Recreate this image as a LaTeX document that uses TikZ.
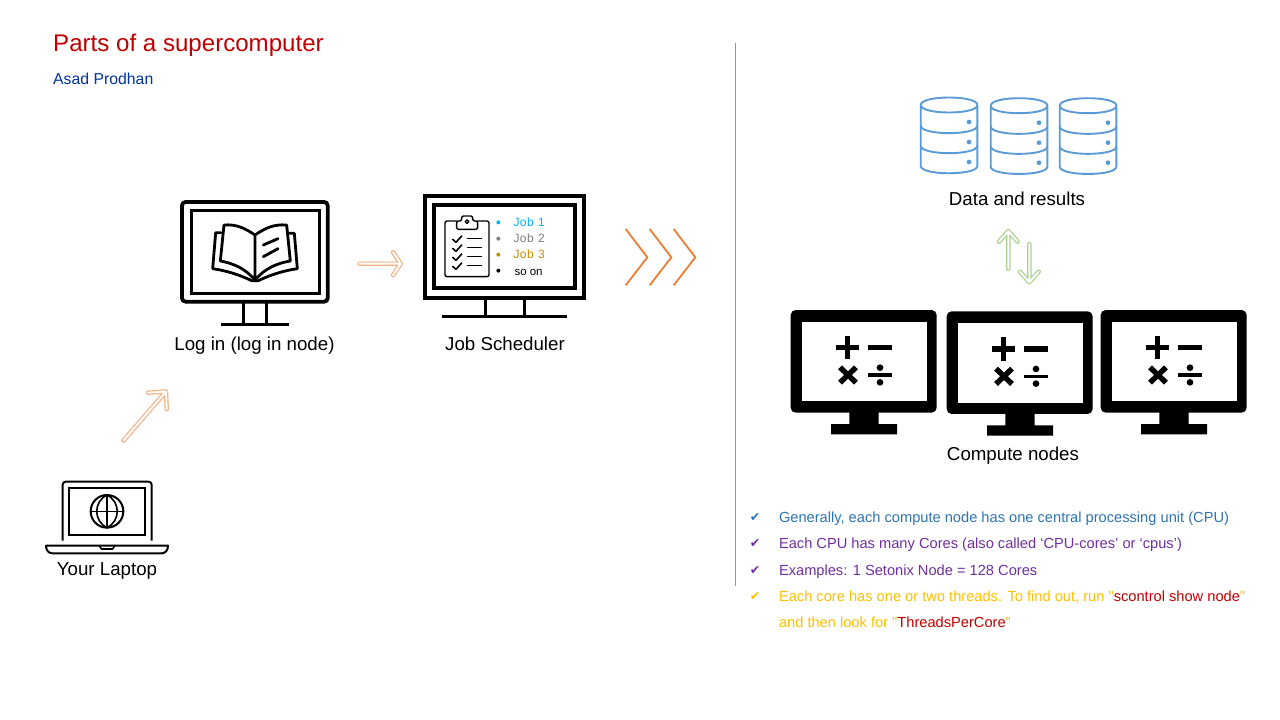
\documentclass[tikz,border=0pt]{standalone}
\usepackage{fontspec}
\setmainfont{Liberation Sans}
\newfontfamily\plainsans{Liberation Sans}
\newfontfamily\symfont{DejaVu Sans}
\definecolor{titlered}{HTML}{C00000}
\definecolor{authorblue}{HTML}{0033A0}
\definecolor{softorange}{HTML}{F4B183}
\definecolor{strongorange}{HTML}{ED7D31}
\definecolor{softgreen}{HTML}{A9D18E}
\definecolor{dbblue}{HTML}{5B9BD5}
\definecolor{listblue}{HTML}{2E75B6}
\definecolor{listpurple}{HTML}{7030A0}
\definecolor{listyellow}{HTML}{FFC000}
\definecolor{jobcyan}{HTML}{00B0F0}
\definecolor{jobgray}{HTML}{808080}
\definecolor{jobgold}{HTML}{BF9000}
\tikzset{
  lbl/.style={inner sep=0pt,outer sep=0pt,anchor=base,font=\fontsize{18.7}{22}\selectfont},
  listitem/.style={inner sep=0pt,outer sep=0pt,anchor=base west,font=\plainsans\fontsize{14.65}{17}\selectfont},
  chk/.style={inner sep=0pt,outer sep=0pt,anchor=base,font=\symfont\fontsize{12.5}{15}\selectfont},
  jobtxt/.style={inner sep=0pt,outer sep=0pt,anchor=base west,font=\fontsize{12}{14}\selectfont},
  hollow/.style={draw=#1,line width=1.2pt,double=white,double distance=2pt,line cap=round,line join=round},
  chevron/.style={draw=strongorange,line width=1.8pt},
  blk/.style={draw=black,line cap=round,line join=round},
  db/.style={draw=dbblue,line width=1.9pt,line join=round},
  zoomframe/.style={x=0.33333pt,y=-0.33333pt}
}
\newcommand{\dbicon}[2]{%
 \begin{scope}[shift={(#1,#2)},zoomframe]
  \draw[db] (0,60) .. controls (0,30) and (170,30) .. (170,60) .. controls (170,90) and (0,90) .. (0,60)
    -- (0,243) .. controls (0,272) and (170,272) .. (170,243) -- (170,60);
  \draw[db] (0,122) .. controls (0,152) and (170,152) .. (170,122);
  \draw[db] (0,182) .. controls (0,212) and (170,212) .. (170,182);
  \fill[dbblue] (145,111) circle (7) (145,171) circle (7) (145,231) circle (7);
 \end{scope}}
\newcommand{\computeicon}[2]{%
 \begin{scope}[shift={(#1,#2)},zoomframe]
  \fill[black,rounded corners=5pt] (32,30) rectangle (470,338);
  \fill[white] (65,65) rectangle (440,304);
  \fill[black] (208,330) rectangle (296,372) (153,372) rectangle (351,403);
  \draw[black,line width=5.3pt] (168,143) -- (238,143) (203,108) -- (203,178) (265,143) -- (335,143);
  \draw[black,line width=3.6pt] (265,225) -- (335,225);
  \draw[black,line width=5.4pt] (180,202) -- (228,248) (228,202) -- (180,248);
  \fill[black] (300,203) circle (10) (300,247) circle (10);
 \end{scope}}
\begin{document}
\begin{tikzpicture}[x=1pt,y=-1pt]
\useasboundingbox (0,0) rectangle (1280,720);
\fill[white] (0,0) rectangle (1280,720);

% heading
\node[inner sep=0pt,anchor=base west,text=titlered,font=\fontsize{24.1}{28}\selectfont] (title) at (53,51) {Parts of a supercomputer};
\node[inner sep=0pt,anchor=base west,text=authorblue,font=\fontsize{15.8}{19}\selectfont] (author) at (53,84) {Asad Prodhan};

% divider
\coordinate (divtop) at (735.5,43);
\coordinate (divbot) at (735.5,586);
\draw[draw=strongorange,line width=0.9pt] (divtop) -- (divbot);

% login monitor
\begin{scope}[shift={(160,180)},zoomframe]
  \draw[blk,line width=3.8pt,rounded corners=3.5pt] (66,66) rectangle (503,365);
  \draw[blk,line width=3pt,line cap=butt,line join=miter] (93,90) rectangle (477,339);
  \draw[blk,line width=3pt,line cap=butt] (251,370) -- (251,430) (318,370) -- (318,430);
  \draw[blk,line width=3pt,line cap=butt] (183,434) -- (386,434);
  \draw[blk,line width=2.8pt] (285,165) .. controls (255,145) and (230,132) .. (192,135) -- (181,243) .. controls (220,250) and (255,265) .. (285,300)
     .. controls (315,265) and (350,250) .. (391,243) -- (380,135) .. controls (340,132) and (315,145) .. (285,165) -- (285,300);
  \draw[blk,line width=2.8pt] (183,158) -- (167,158) -- (158,266) .. controls (200,272) and (240,285) .. (275,302) -- (295,302)
     .. controls (330,285) and (370,272) .. (412,266) -- (403,160) -- (387,160);
  \draw[blk,line width=2.8pt] (310,195) -- (354,176) (310,230) -- (354,206);
\end{scope}
\node[lbl] (login) at (254.5,350) {Log in (log in node)};

% scheduler monitor
\begin{scope}[shift={(410,180)},zoomframe]
  \draw[blk,line width=4pt,line cap=butt,line join=miter] (44,47) rectangle (523,353);
  \draw[blk,line width=4pt,line cap=butt,line join=miter] (71,75) rectangle (494,325);
  \draw[blk,line width=3pt,line cap=butt] (225,357) -- (225,408) (342,357) -- (342,408);
  \draw[blk,line width=3.2pt,line cap=butt] (97,409) -- (470,409);
  \draw[blk,line width=1.4pt,rounded corners=2pt] (140,123) -- (105,123) -- (105,290) -- (237,290) -- (237,123) -- (203,123);
  \draw[blk,line width=1.4pt,rounded corners=2pt] (140,148) -- (140,123) -- (155,123) -- (155,108) -- (188,108) -- (188,123) -- (203,123) -- (203,148) -- cycle;
  \draw[blk,line width=1.3pt] (171,125) circle (5.5);
  \foreach \yy in {0,27,54,81}{
    \draw[blk,line width=1.6pt] (128,178+\yy) -- (138,187+\yy) -- (155,168+\yy);
    \draw[blk,line width=1.4pt,line cap=butt] (170,175+\yy) -- (216,175+\yy);
  }
  \fill[jobcyan] (265,127) circle (6);
  \fill[jobgray] (265,176) circle (6);
  \fill[jobgold] (265,224) circle (6);
  \fill[black] (265,272) circle (6);
\end{scope}
\node[jobtxt,text=jobcyan] (jobone) at (513.5,226.5) {J\kern0.5pt o\kern0.5pt b\kern1pt\ 1};
\node[jobtxt,text=jobgray] (jobtwo) at (513.5,242.5) {J\kern0.5pt o\kern0.5pt b\kern1pt\ 2};
\node[jobtxt,text=jobgold] (jobthree) at (513.5,258.5) {J\kern0.5pt o\kern0.5pt b\kern1pt\ 3};
\node[jobtxt,text=black,font=\fontsize{11.5}{14}\selectfont] (soon) at (514.5,275) {so on};
\node[lbl] (sched) at (505,350) {Job Scheduler};

% connectors
\coordinate (loginarrowa) at (359.5,263.7);
\coordinate (loginarrowb) at (400.7,263.7);
\draw[hollow=softorange] (loginarrowa) -- (loginarrowb) (393,252.2) -- (loginarrowb) -- (393,275.2);
\coordinate (laptoparrowa) at (123.3,440.7);
\coordinate (laptoparrowb) at (166,391.5);
\draw[hollow=softorange] (laptoparrowa) -- (laptoparrowb) (148,392.7) -- (laptoparrowb) -- (166.7,409.3);

% chevrons
\begin{scope}[shift={(410,180)},zoomframe]
  \foreach \dx in {0,72,144}{
    \draw[chevron] (647+\dx,147) -- (712+\dx,232) -- (647+\dx,316);
  }
\end{scope}

% laptop
\begin{scope}[shift={(30,380)},zoomframe]
  \draw[blk,line width=2pt,line cap=butt,rounded corners=3pt] (98,482) -- (98,305) -- (365,305) -- (365,482);
  \draw[blk,line width=2.1pt,line cap=butt,line join=miter] (117,325) rectangle (345,465);
  \draw[blk,line width=2pt] (231,394) circle (49);
  \draw[blk,line width=1.6pt] (231,345) -- (231,443) (182,394) -- (280,394);
  \draw[blk,line width=1.6pt] (231,345) .. controls (190,365) and (190,423) .. (231,443) .. controls (272,423) and (272,365) .. (231,345);
  \draw[blk,line width=2pt] (48,497) -- (414,497) .. controls (414,512) and (405,520) .. (395,520) -- (67,520) .. controls (57,520) and (48,512) .. (48,497);
  \draw[blk,line width=1.6pt] (208,497) -- (214,507) -- (248,507) -- (254,497);
\end{scope}
\node[lbl] (laptop) at (107,575) {Your Laptop};

% storage
\dbicon{920.7}{85}
\dbicon{990.7}{85.7}
\dbicon{1059.7}{85.7}
\node[lbl] (data) at (1017,205) {Data and results};
\coordinate (uparrowa) at (1008.3,269);
\coordinate (uparrowb) at (1008.3,231);
\coordinate (downarrowa) at (1029.3,244);
\coordinate (downarrowb) at (1029.3,282.3);
\draw[hollow=softgreen] (uparrowa) -- (uparrowb) (999,241.7) -- (uparrowb) -- (1017.7,241.7);
\draw[hollow=softgreen] (downarrowa) -- (downarrowb) (1020,271.7) -- (downarrowb) -- (1038.7,271.7);

% compute
\computeicon{780}{300}
\computeicon{936}{301.3}
\computeicon{1090}{300}
\node[lbl] (compute) at (1013,460) {Compute nodes};

% list
\node[chk,text=listblue] (ca) at (755,521) {✔};
\node[chk,text=listpurple] (cb) at (755,547) {✔};
\node[chk,text=listpurple] (cc) at (755,574) {✔};
\node[chk,text=listyellow] (cd) at (755,600) {✔};
\node[listitem,text=listblue] (la) at (779,522) {Generally, each compute node has one central processing unit (CPU)};
\node[listitem,text=listpurple] (lb) at (779,548) {Each CPU has many Cores (also called ‘CPU-cores’ or ‘cpus’)};
\node[listitem,text=listpurple] (lc) at (779,575) {Examples: 1 Setonix Node = 128 Cores};
\node[listitem,text=listyellow] (ld) at (779,601) {Each core has one or two threads. To find out, run "\textcolor{titlered}{scontrol show node}"};
\node[listitem,text=listyellow] (le) at (779,627) {and then look for "\textcolor{titlered}{ThreadsPerCore}"};
\end{tikzpicture}
\end{document}
